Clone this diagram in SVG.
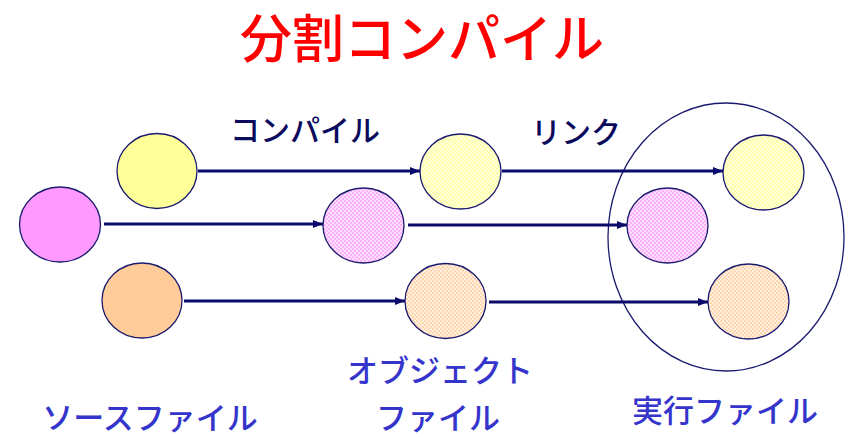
<svg xmlns="http://www.w3.org/2000/svg" width="852" height="437" viewBox="0 0 852 437">
<style>
.node{stroke:#1a1a6e;stroke-width:1.3}
.edge{stroke:#0b0b6b;stroke-width:3;fill:none;marker-end:url(#ah)}
.t{font-family:"Noto Sans CJK JP","Liberation Sans",sans-serif;text-anchor:middle;font-weight:500}
.title{fill:#ff0000;font-size:52px}
.op{fill:#0b0b5e;font-size:30px}
.lab{fill:#3535cc;font-size:31px}
</style>
<defs>
<marker id="ah" viewBox="0 0 10 8" refX="10" refY="4" markerWidth="10" markerHeight="8" markerUnits="userSpaceOnUse" orient="auto">
<path d="M0,0 L10,4 L0,8 z" fill="#0b0b6b"/>
</marker>
<pattern id="py" width="4" height="4" patternUnits="userSpaceOnUse">
<rect width="4" height="4" fill="#ffffd6"/><rect width="2" height="2" fill="#ffffb0"/><rect x="2" y="2" width="2" height="2" fill="#ffffb0"/>
</pattern>
<pattern id="pp" width="4" height="4" patternUnits="userSpaceOnUse">
<rect width="4" height="4" fill="#ffe0ff"/><rect width="2" height="2" fill="#ffb0ff"/><rect x="2" y="2" width="2" height="2" fill="#ffb0ff"/>
</pattern>
<pattern id="po" width="4" height="4" patternUnits="userSpaceOnUse">
<rect width="4" height="4" fill="#fff0e0"/><rect width="2" height="2" fill="#ffd6b0"/><rect x="2" y="2" width="2" height="2" fill="#ffd6b0"/>
</pattern>
</defs>
<rect width="852" height="437" fill="#ffffff"/>
<text class="t title" x="422" y="58">分割コンパイル</text>
<g id="exe-group"><ellipse cx="726" cy="237" rx="118" ry="134" fill="none" stroke="#1a1a6e" stroke-width="1.3"/></g>
<g id="src-yellow"><ellipse class="node" cx="157" cy="171" rx="40" ry="37.5" fill="#ffff99"/></g>
<g id="src-pink"><ellipse class="node" cx="60" cy="224.5" rx="40.5" ry="37.5" fill="#ff99ff"/></g>
<g id="src-orange"><ellipse class="node" cx="142" cy="300.5" rx="40" ry="37.5" fill="#ffcc99"/></g>
<g id="obj-yellow"><ellipse class="node" cx="460.5" cy="171.5" rx="40.5" ry="37.5" fill="url(#py)"/></g>
<g id="obj-pink"><ellipse class="node" cx="363.5" cy="225.5" rx="40.5" ry="37.5" fill="url(#pp)"/></g>
<g id="obj-orange"><ellipse class="node" cx="445.5" cy="301" rx="40.5" ry="37.5" fill="url(#po)"/></g>
<g id="exe-yellow"><ellipse class="node" cx="763.5" cy="172.5" rx="40.5" ry="37.5" fill="url(#py)"/></g>
<g id="exe-pink"><ellipse class="node" cx="667.5" cy="225.5" rx="40.5" ry="37.5" fill="url(#pp)"/></g>
<g id="exe-orange"><ellipse class="node" cx="748.5" cy="301.5" rx="40.5" ry="37.5" fill="url(#po)"/></g>
<g id="connectors">
<line class="edge" x1="198" y1="171" x2="420" y2="171"/>
<line class="edge" x1="104" y1="224" x2="323" y2="224"/>
<line class="edge" x1="184" y1="301" x2="405" y2="301"/>
<line class="edge" x1="502" y1="171" x2="723" y2="171"/>
<line class="edge" x1="408" y1="225" x2="627" y2="225"/>
<line class="edge" x1="489" y1="302" x2="708" y2="302"/>
</g>
<text class="t op" x="305" y="141">コンパイル</text>
<text class="t op" x="576" y="143">リンク</text>
<text class="t lab" x="150" y="429">ソースファイル</text>
<text class="t lab" x="440" y="382">オブジェクト</text>
<text class="t lab" x="438" y="429">ファイル</text>
<text class="t lab" x="725" y="422">実行ファイル</text>
</svg>
